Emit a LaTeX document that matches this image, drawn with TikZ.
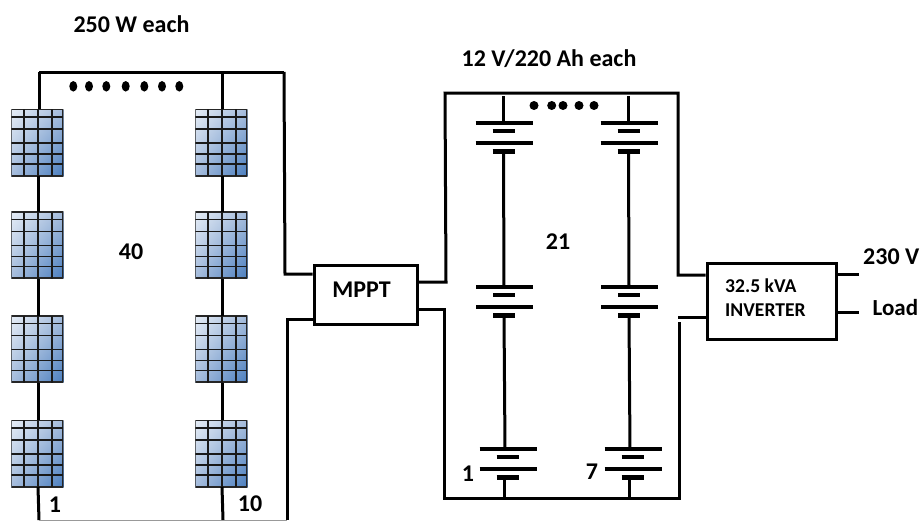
\documentclass[tikz,border=0pt]{standalone}
\usepackage{fontspec}
\setmainfont{Carlito}
\usetikzlibrary{shapes.geometric,shadings,calc}
\definecolor{pvlight}{HTML}{E6EDF6}
\definecolor{pvmid}{HTML}{A5BCDC}
\definecolor{pvdark}{HTML}{4A7EBF}
\tikzset{
  wire/.style={line width=3pt,black,line join=miter},
  thinwire/.style={line width=3pt,black},
  gridline/.style={line width=1.8pt,black!90},
  pvpanel/.style={rectangle,inner sep=0pt,outer sep=0pt,minimum width=52pt,minimum height=67pt,
    upper left=pvlight,upper right=pvmid,lower left=pvmid,lower right=pvdark,
    path picture={
      \draw[line width=2.2pt,black!85]
        (path picture bounding box.north west) rectangle (path picture bounding box.south east);
      \foreach \gx in {13,27,40.5}{
        \draw[gridline] ([xshift=\gx pt]path picture bounding box.north west) -- ([xshift=\gx pt]path picture bounding box.south west);}
      \foreach \gy in {8,20,34,45,55}{
        \draw[gridline] ([yshift=-\gy pt]path picture bounding box.north west) -- ([yshift=-\gy pt]path picture bounding box.north east);}
    }},
  box/.style={draw=black,line width=3pt,rectangle,inner sep=0pt,fill=white},
  lbl/.style={font=\fontsize{24}{26}\selectfont\bfseries,inner sep=0pt,text=black},
  smalllbl/.style={font=\fontsize{19.6}{21}\selectfont\bfseries,inner sep=0pt,text=black},
  dotmark/.style={ellipse,fill=black,inner sep=0pt,minimum width=8pt,minimum height=10.5pt},
  batdot/.style={circle,fill=black,inner sep=0pt,minimum size=9pt},
  batbar/.style={line width=4.2pt,black},
  pics/battery/.style={code={
    \coordinate (-top) at (0,0);
    \coordinate (-bot) at (0,28.5);
    \draw[batbar] (-28,0) -- (29,0);
    \draw[batbar] (-11,8) -- (11,8);
    \draw[batbar] (-28,20) -- (29,20);
    \draw[batbar] (-11,28.5) -- (11,28.5);
  }}
}
\begin{document}
\begin{tikzpicture}[x=1pt,y=-1pt]
\useasboundingbox (0,0) rectangle (921,522);
\clip (0,0) rectangle (921,522);
% solar panels
\foreach \nm/\px in {a/37.3,b/221.3}{
  \node[pvpanel] (\nm1) at (\px,142.5) {};
  \node[pvpanel] (\nm2) at (\px,245) {};
  \node[pvpanel] (\nm3) at (\px,349) {};
  \node[pvpanel] (\nm4) at (\px,453.5) {};
}
% free ends
\coordinate (topL) at (39,72);
\coordinate (topR) at (222,72);
\coordinate (topE) at (284,72);
\coordinate (botL) at (39,520);
\coordinate (botR) at (223,520);
\coordinate (botE) at (287,520);
% boxes
\node[box,minimum width=103pt,minimum height=59pt] (mppt) at (365.5,294.5) {};
\node[lbl] at (361.5,290) {MPPT};
\node[box,minimum width=129pt,minimum height=76pt] (inv) at (771.5,301) {};
\node[smalllbl,anchor=west] at (725,286) {32.5 kVA};
\node[smalllbl,anchor=west] at (725,310) {INVERTER};
% string wiring
\draw[wire] (topL) -- (topE);
\draw[wire] (topL) -- (39,109);
\draw[wire] (topR) -- (222,109);
\draw[wire] ($(a1.south)+(0.7,0)$) -- ($(a2.north)+(0.7,0)$);
\draw[wire] ($(a2.south)+(0.7,0)$) -- ($(a3.north)+(0.7,0)$);
\draw[wire] ($(a3.south)+(0.7,0)$) -- ($(a4.north)+(0.7,0)$);
\draw[wire] ($(a4.south)+(0.7,0)$) -- (botL);
\draw[wire] ($(b1.south)+(0.7,0)$) -- ($(b2.north)+(0.7,0)$);
\draw[wire] ($(b2.south)+(0.7,0)$) -- ($(b3.north)+(0.7,0)$);
\draw[wire] ($(b3.south)+(0.7,0)$) -- ($(b4.north)+(0.7,0)$);
\draw[wire] ($(b4.south)+(0.7,0)$) -- (botR);
\draw[wire] (topE) -- (285,274) -- (mppt.west |- 0,274);
\draw[wire] (mppt.west |- 0,319) -- (287,319) -- (botE);
\draw[line width=1pt,black!40] (botL) -- (botE);
% battery frame
\coordinate (frameTL) at (445,93);
\coordinate (frameTR) at (678,93);
\coordinate (frameBL) at (444,498);
\coordinate (frameBR) at (679,498);
\draw[wire] (mppt.east |- 0,282) -- (446,282) -- (frameTL) -- (frameTR) -- (678,275) -- (inv.west |- 0,275);
\draw[wire] (mppt.east |- 0,309) -- (444,309) -- (frameBL) -- (frameBR) -- (679,322);
\draw[wire] (678,317) -- (inv.west |- 0,317);
% batteries
\pic (c1) at (503.5,123) {battery};
\pic (c2) at (504,287) {battery};
\pic (c3) at (507.5,449) {battery};
\pic (d1) at (628.5,123) {battery};
\pic (d2) at (629,287) {battery};
\pic (d3) at (632.5,449) {battery};
\coordinate (c0) at (503.5,96);
\coordinate (d0) at (628.5,96);
\coordinate (c4) at (504,498);
\coordinate (d4) at (629,498);
\draw[thinwire] (c0) -- (c1-top);
\draw[thinwire] (d0) -- (d1-top);
\draw[thinwire] (c1-bot) -- (c2-top);
\draw[thinwire] (d1-bot) -- (d2-top);
\draw[thinwire] (c2-bot) -- (505,449);
\draw[thinwire] (d2-bot) -- (630,449);
\draw[thinwire] (504,478) -- (c4);
\draw[thinwire] (629,478) -- (d4);
% outputs
\coordinate (out1) at (859,274);
\coordinate (out2) at (859,312);
\draw[wire] (inv.east |- out1) -- (out1);
\draw[wire] (inv.east |- out2) -- (out2);
% dots
\foreach \dx in {73.3,89,106.3,125.7,144.3,162,179.3}{\node[dotmark] at (\dx,86.3) {};}
\foreach \dx in {534,551.7,563,579,594}{\node[batdot] at (\dx,105.5) {};}
% labels
\node[lbl] at (131.5,24) {250 W each};
\node[lbl] at (549,59) {12 V/220 Ah each};
\node[lbl] at (131,252) {40};
\node[lbl] at (558,242) {21};
\node[lbl] at (55,504.5) {1};
\node[lbl] at (250,503.5) {10};
\node[lbl] at (468,474) {1};
\node[lbl] at (592,472) {7};
\node[lbl,anchor=west] at (863,257) {230 V};
\node[lbl,font=\fontsize{23}{25}\selectfont\bfseries,anchor=west] at (872.5,308) {Load};
\end{tikzpicture}
\end{document}
